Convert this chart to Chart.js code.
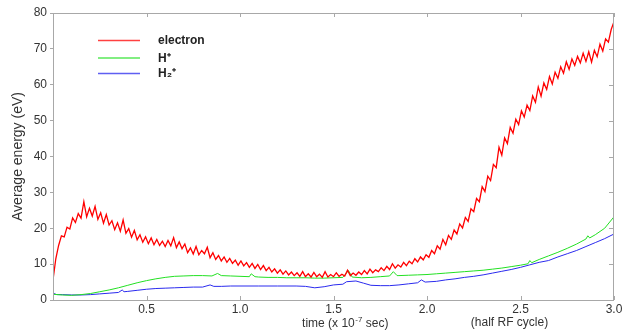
<!DOCTYPE html>
<html><head><meta charset="utf-8">
<script src="https://cdn.jsdelivr.net/npm/chart.js@4"></script>
<style>html,body{margin:0;padding:0;background:#fff}canvas{display:block}</style>
</head><body>
<canvas id="c" width="636" height="335"></canvas>
<script>
// ---- data ----
const seriesNames = ['electron', 'H⁺', 'H₂⁺'];
const xTickValues = [0.5, 1.0, 1.5, 2.0, 2.5, 3.0];
const yTickValues = [0, 10, 20, 30, 40, 50, 60, 70, 80];
const xTitle = 'time (x 10';
const xTitleSup = '-7';
const xTitleEnd = ' sec)';
const xNote = '(half RF cycle)';
const yTitle = 'Average energy (eV)';

// electron: sampled every 0.015 (x 10^-7 s) from 0 to 3.0
const electronStep = 0.015;
const electronValues = [
  5.6, 11.5, 15.2, 17.9, 17.6, 20.3, 19.8, 22.9, 21.6, 24.1,
  22.8, 27.4, 23.2, 25.6, 23.4, 26.1, 22.5, 24.3, 21.4, 23.8,
  20.9, 22.1, 19.6, 21.5, 19.2, 22.3, 18.6, 19.9, 17.5, 19.4,
  16.8, 18.2, 16.1, 17.6, 15.7, 17.3, 15.4, 16.9, 15.2, 16.4,
  14.9, 16.6, 15.1, 17.4, 14.6, 16.2, 14.3, 15.6, 13.2, 14.5,
  12.8, 14.9, 12.6, 13.8, 12.9, 14.7, 11.8, 13.2, 11.3, 12.4,
  10.9, 12.0, 10.5, 11.6, 10.2, 11.1, 9.7, 10.9, 9.5, 10.4,
  9.1, 10.2, 8.8, 9.9, 8.5, 9.6, 8.2, 9.1, 7.8, 8.7,
  7.5, 8.4, 7.2, 8.1, 7.0, 7.8, 6.8, 7.6, 6.6, 7.9,
  6.5, 7.3, 6.4, 7.7, 6.5, 7.2, 6.3, 7.9, 6.4, 7.1,
  6.5, 7.6, 6.6, 7.2, 6.7, 8.3, 6.8, 7.5, 6.9, 7.8,
  7.1, 8.2, 7.3, 8.6, 7.6, 8.4, 7.9, 9.0, 8.2, 9.4,
  8.5, 10.1, 8.9, 9.8, 9.2, 10.5, 9.6, 10.8, 10.1, 11.5,
  10.6, 12.0, 11.2, 12.6, 11.9, 13.8, 12.9, 15.1, 14.2, 16.9,
  15.4, 18.0, 16.9, 19.5, 18.4, 21.2, 20.1, 23.0, 21.9, 25.4,
  24.6, 28.3, 27.4, 31.6, 30.2, 34.5, 33.3, 37.8, 36.9, 42.6,
  40.4, 45.2, 43.6, 48.1, 46.5, 50.4, 48.9, 52.7, 51.0, 54.3,
  52.8, 56.9, 55.1, 59.4, 56.8, 60.5, 58.7, 62.3, 60.2, 63.5,
  61.8, 65.0, 63.2, 66.4, 64.3, 67.2, 65.4, 67.9, 66.1, 68.8,
  66.5, 69.2, 66.3, 69.6, 67.8, 71.3, 69.4, 72.8, 71.9, 75.4,
  77.6
];

const hTimes = [0, 0.05, 0.1, 0.15, 0.2, 0.25, 0.3, 0.35, 0.4, 0.45, 0.5, 0.55, 0.6, 0.65, 0.7, 0.75, 0.8, 0.85, 0.88, 0.9,
  0.95, 1.0, 1.05, 1.06, 1.08, 1.1, 1.15, 1.2, 1.25, 1.3, 1.35, 1.4, 1.45, 1.5, 1.55, 1.58, 1.6, 1.65, 1.7, 1.75,
  1.8, 1.82, 1.84, 1.85, 1.9, 1.95, 2.0, 2.05, 2.1, 2.15, 2.2, 2.25, 2.3, 2.35, 2.4, 2.45, 2.5, 2.54, 2.55, 2.56,
  2.6, 2.65, 2.7, 2.75, 2.8, 2.85, 2.86, 2.87, 2.9, 2.95, 3.0];
const hValues = [1.6, 1.4, 1.3, 1.5, 1.8, 2.3, 2.8, 3.4, 4.1, 4.8, 5.4, 5.9, 6.3, 6.6, 6.7, 6.8, 6.8, 6.7, 7.4, 6.8,
  6.7, 6.6, 6.5, 7.3, 6.5, 6.4, 6.3, 6.3, 6.2, 6.2, 6.2, 6.1, 6.1, 6.2, 6.3, 8.2, 6.4, 6.2, 6.3, 6.5,
  6.7, 7.9, 6.8, 6.8, 6.9, 7.0, 7.1, 7.3, 7.5, 7.7, 7.9, 8.1, 8.3, 8.6, 8.9, 9.3, 9.7, 10.1, 11.0, 10.4,
  11.3, 12.3, 13.3, 14.4, 15.6, 17.0, 17.9, 17.3, 18.2, 20.0, 23.2];

const h2Times = [0, 0.02, 0.05, 0.1, 0.15, 0.2, 0.25, 0.3, 0.35, 0.37, 0.38, 0.4, 0.45, 0.5, 0.55, 0.6, 0.65, 0.7, 0.75, 0.8,
  0.84, 0.86, 0.9, 0.95, 1.0, 1.1, 1.2, 1.3, 1.35, 1.4, 1.45, 1.5, 1.55, 1.57, 1.62, 1.66, 1.7, 1.75, 1.8, 1.85,
  1.9, 1.95, 1.97, 1.99, 2.05, 2.1, 2.15, 2.2, 2.25, 2.3, 2.35, 2.4, 2.45, 2.5, 2.55, 2.6, 2.65, 2.7, 2.75, 2.8,
  2.85, 2.9, 2.95, 3.0];
const h2Values = [1.9, 1.5, 1.5, 1.4, 1.4, 1.5, 1.7, 1.9, 2.1, 2.8, 2.3, 2.4, 2.7, 3.0, 3.2, 3.3, 3.4, 3.5, 3.6, 3.6,
  4.2, 3.8, 3.8, 3.9, 3.9, 3.9, 3.9, 3.9, 3.8, 3.4, 3.7, 4.2, 4.4, 5.1, 5.3, 4.7, 4.1, 4.0, 4.0, 4.2,
  4.5, 4.8, 5.6, 5.0, 5.2, 5.6, 5.9, 6.3, 6.6, 7.0, 7.5, 8.0, 8.5, 9.1, 9.8, 10.5, 11.0, 12.0, 12.9, 13.8,
  14.9, 16.0, 17.1, 18.4];

// ---- build ----
const FONT = '"Liberation Sans", Arial, sans-serif';
const TEXT = '#333333';
const FRAME = '#a8a8a8';
const colors = ['#ff0000', '#22e022', '#2a2aee'];

const electronData = electronValues.map((v, i) => ({ x: Math.round(i * electronStep * 1000) / 1000, y: v }));
const hData = hTimes.map((t, i) => ({ x: t, y: hValues[i] }));
const h2Data = h2Times.map((t, i) => ({ x: t, y: h2Values[i] }));

const framePlugin = {
  id: 'frame',
  afterDatasetsDraw(chart) {
    const { ctx, chartArea: a, scales: { x, y } } = chart;
    ctx.save();
    ctx.strokeStyle = FRAME;
    ctx.lineWidth = 1;
    ctx.strokeRect(Math.round(a.left) + 0.5, Math.round(a.top) + 0.5, Math.round(a.right - a.left) - 1, Math.round(a.bottom - a.top));
    ctx.beginPath();
    xTickValues.forEach(v => {
      const px = Math.round(x.getPixelForValue(v)) + 0.5;
      ctx.moveTo(px, a.top); ctx.lineTo(px, a.top + 4);
      ctx.moveTo(px, a.bottom); ctx.lineTo(px, a.bottom - 4);
    });
    yTickValues.forEach(v => {
      const py = Math.round(y.getPixelForValue(v)) + 0.5;
      ctx.moveTo(a.right - 1, py); ctx.lineTo(a.right - 5, py);
    });
    ctx.stroke();
    ctx.restore();
  },
  afterDraw(chart) {
    const { ctx, chartArea: a, scales: { x } } = chart;
    ctx.save();
    // legend
    const rows = [40, 57.5, 73];
    chart.data.datasets.forEach((ds, i) => {
      ctx.strokeStyle = ds.borderColor;
      ctx.globalAlpha = 0.75;
      ctx.lineWidth = 1.5;
      ctx.beginPath();
      ctx.moveTo(98, rows[i] + 0.5); ctx.lineTo(140, rows[i] + 0.5);
      ctx.stroke();
      ctx.globalAlpha = 1;
      ctx.fillStyle = '#222';
      ctx.font = 'bold 12px ' + FONT;
      ctx.textBaseline = 'middle';
      ctx.textAlign = 'left';
      ctx.fillText(ds.label, 158, rows[i] + 1);
    });
    // x titles
    ctx.fillStyle = TEXT;
    ctx.textBaseline = 'alphabetic';
    ctx.font = '12px ' + FONT;
    const w1 = ctx.measureText(xTitle).width;
    ctx.font = '8px ' + FONT;
    const w2 = ctx.measureText(xTitleSup).width;
    ctx.font = '12px ' + FONT;
    const w3 = ctx.measureText(xTitleEnd).width;
    const total = w1 + w2 + w3;
    let sx = 345 - total / 2;
    const base = 327;
    ctx.textAlign = 'left';
    ctx.fillText(xTitle, sx, base);
    ctx.font = '8px ' + FONT;
    ctx.fillText(xTitleSup, sx + w1 + 0.5, base - 5);
    ctx.font = '12px ' + FONT;
    ctx.fillText(xTitleEnd, sx + w1 + w2 + 0.5, base);
    ctx.textAlign = 'center';
    ctx.fillText(xNote, x.getPixelForValue(2.5) - 11, 326);
    ctx.restore();
  }
};

new Chart(document.getElementById('c'), {
  type: 'line',
  data: {
    datasets: [
      { label: seriesNames[0], data: electronData, borderColor: colors[0], borderWidth: 1.3, pointRadius: 0, tension: 0 },
      { label: seriesNames[1], data: hData, borderColor: colors[1], borderWidth: 1, pointRadius: 0, tension: 0 },
      { label: seriesNames[2], data: h2Data, borderColor: colors[2], borderWidth: 1, pointRadius: 0, tension: 0 }
    ]
  },
  options: {
    responsive: false,
    animation: false,
    devicePixelRatio: 1,
    layout: { padding: { top: 13, right: 22, left: 0, bottom: 0 } },
    plugins: { legend: { display: false }, tooltip: { enabled: false } },
    scales: {
      x: {
        type: 'linear', min: 0, max: 3,
        afterBuildTicks: s => { s.ticks = xTickValues.map(v => ({ value: v })); },
        afterFit: s => { s.height = 35; },
        ticks: { callback: v => v.toFixed(1), font: { family: FONT, size: 12 }, color: TEXT, padding: 2, maxRotation: 0, autoSkip: false },
        grid: { display: false, drawTicks: false },
        border: { display: false }
      },
      y: {
        type: 'linear', min: 0, max: 80,
        afterBuildTicks: s => { s.ticks = yTickValues.map(v => ({ value: v })); },
        afterFit: s => { s.width = 53; },
        ticks: { font: { family: FONT, size: 12 }, color: TEXT, padding: 3, autoSkip: false },
        grid: { drawOnChartArea: false, tickLength: 3, color: FRAME },
        border: { display: false },
        title: { display: true, text: yTitle, font: { family: FONT, size: 14 }, color: TEXT, padding: { top: 10, bottom: 0 } }
      }
    }
  },
  plugins: [framePlugin]
});
</script>
</body></html>
